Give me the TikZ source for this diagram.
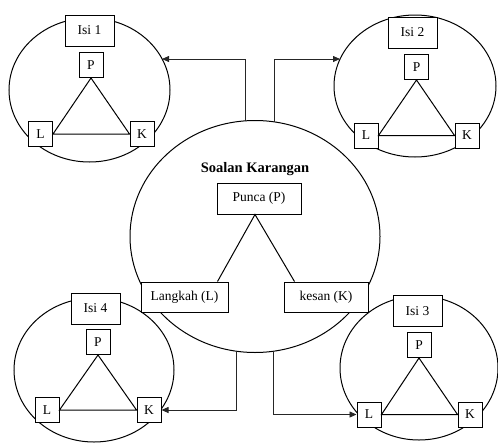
\documentclass[tikz,border=0pt]{standalone}
\usepackage{fontspec}
\setmainfont{Liberation Serif}
\usetikzlibrary{shapes.geometric,arrows.meta}
\begin{document}
\begin{tikzpicture}[x=1pt,y=-1pt,
  circ/.style={draw, ellipse, inner sep=0pt, line width=1pt},
  box/.style={draw, fill=white, rectangle, inner sep=0pt, line width=1pt, font=\fontsize{13.5}{15}\selectfont},
  sbox/.style={box, minimum width=24pt, minimum height=25pt},
  ibox/.style={box, minimum width=49pt, minimum height=31pt},
  link/.style={line width=0.8pt, draw=black!85, -{Triangle[length=7pt,width=6pt]}},
  tri/.style={line width=1pt}]
\useasboundingbox (0,0) rectangle (498,442);
% circles
\node[circ, minimum width=161pt, minimum height=144pt] (c1) at (89.5,90) {};
\node[circ, minimum width=162pt, minimum height=142pt] (c2) at (415,86) {};
\node[circ, minimum width=158pt, minimum height=144pt] (c3) at (419,368) {};
\node[circ, minimum width=160pt, minimum height=144pt] (c4) at (94,370) {};
\node[circ, minimum width=250pt, minimum height=232pt] (c0) at (255,236.5) {};
% Isi 1
\node[ibox] (i1) at (89.5,30.5) {Isi 1};
\node[sbox] (p1) at (91,65) {P};
\node[sbox] (l1) at (40.5,134) {L};
\node[sbox] (k1) at (142,134) {K};
\draw[tri] (p1.south) -- (l1.east) -- (k1.west) -- cycle;
% Isi 2
\node[ibox] (i2) at (412.5,32.5) {Isi 2};
\node[sbox] (p2) at (416.5,67) {P};
\node[sbox] (l2) at (366,135.5) {L};
\node[sbox] (k2) at (467,135.5) {K};
\draw[tri] (p2.south) -- (l2.east) -- (k2.west) -- cycle;
% Isi 3
\node[ibox] (i3) at (417.5,311) {Isi 3};
\node[sbox] (p3) at (419,345) {P};
\node[sbox] (l3) at (369,414.5) {L};
\node[sbox] (k3) at (470,414.5) {K};
\draw[tri] (p3.south) -- (l3.east) -- (k3.west) -- cycle;
% Isi 4
\node[ibox] (i4) at (95.5,308.5) {Isi 4};
\node[sbox] (p4) at (98,342) {P};
\node[sbox] (l4) at (47,410) {L};
\node[sbox] (k4) at (149,410) {K};
\draw[tri] (p4.south) -- (l4.east) -- (k4.west) -- cycle;
% central
\node[font=\bfseries\fontsize{14.5}{17}\selectfont] (t) at (255,169) {Soalan Karangan};
\node[box, minimum width=84pt, minimum height=31pt] (pp) at (259,198.5) {Punca (P)};
\node[box, minimum width=87pt, minimum height=30pt] (ll) at (184.5,297) {Langkah (L)};
\node[box, minimum width=84pt, minimum height=30pt] (kk) at (326,297) {kesan (K)};
\draw[tri] ([xshift=-11pt]ll.north east) -- ([xshift=-4pt]pp.south) -- ([xshift=11pt]kk.north west);
% connectors
\coordinate (s1) at (245,121);
\coordinate (e1) at (162,59);
\coordinate (s2) at (274,122);
\coordinate (e2) at (340,59);
\coordinate (s3) at (273,351);
\coordinate (s4) at (236,351);
\draw[link] (s1) |- (e1);
\draw[link] (s2) |- (e2);
\draw[link] (s3) |- (l3.west);
\draw[link] (s4) |- (k4.east);
\end{tikzpicture}
\end{document}
